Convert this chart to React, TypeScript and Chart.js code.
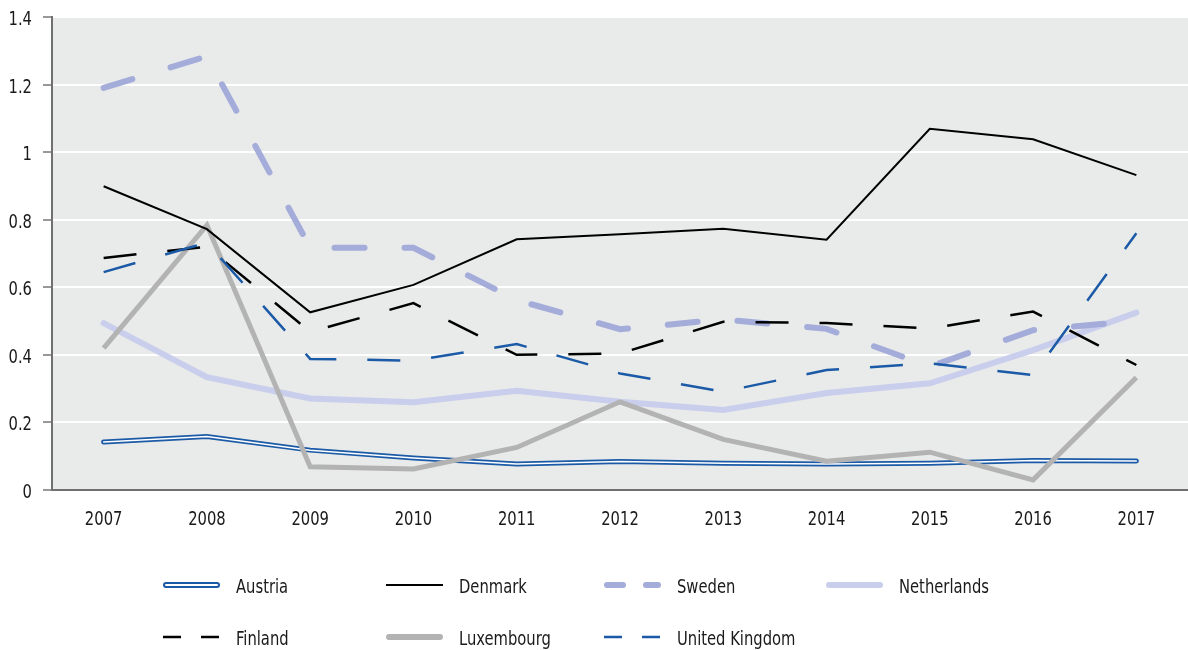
import React, { useEffect, useRef } from "react";
import { Chart, registerables } from "chart.js";

Chart.register(...registerables);

// Years on the category axis
const years = ["2007", "2008", "2009", "2010", "2011", "2012", "2013", "2014", "2015", "2016", "2017"];

// Series values per country
const austria = [0.142, 0.158, 0.118, 0.095, 0.077, 0.084, 0.079, 0.077, 0.079, 0.087, 0.086];
const denmark = [0.899, 0.772, 0.526, 0.607, 0.742, 0.757, 0.773, 0.741, 1.069, 1.038, 0.932];
const sweden = [1.19, 1.284, 0.717, 0.717, 0.562, 0.476, 0.505, 0.477, 0.365, 0.473, 0.501];
const netherlands = [0.494, 0.334, 0.271, 0.26, 0.294, 0.261, 0.237, 0.287, 0.316, 0.414, 0.525];
const finland = [0.687, 0.72, 0.468, 0.553, 0.4, 0.404, 0.498, 0.494, 0.478, 0.528, 0.37];
const luxembourg = [0.42, 0.784, 0.069, 0.062, 0.126, 0.261, 0.15, 0.085, 0.112, 0.03, 0.333];
const unitedKingdom = [0.645, 0.732, 0.388, 0.383, 0.432, 0.345, 0.291, 0.355, 0.375, 0.34, 0.76];

// Y axis ticks and their labels
const yTicks = [0, 0.2, 0.4, 0.6, 0.8, 1, 1.2, 1.4];
const yTickLabels = ["0", "0.2", "0.4", "0.6", "0.8", "1", "1.2", "1.4"];

const FONT = '"DejaVu Sans Condensed", "DejaVu Sans", sans-serif';
const SQUEEZE = 0.82; // horizontal squeeze for a narrow typeface look
const TEXT = "#1a1a1a";
const BLUE = "#1b5aa6";
const LAVENDER = "#a4acda";
const PALE = "#c9ceec";
const GREY = "#b3b3b3";
const AXIS = "#707070";
const PLOT_BG = "#e9eaea";

type LegendEntry = {
  label: string;
  color: string;
  width: number;
  dash: number[];
  cap: CanvasLineCap;
  double?: boolean;
};

const legendEntries: LegendEntry[] = [
  { label: "Austria", color: BLUE, width: 6, dash: [], cap: "round", double: true },
  { label: "Denmark", color: "#000000", width: 2, dash: [], cap: "butt" },
  { label: "Sweden", color: LAVENDER, width: 6, dash: [16, 23], cap: "round" },
  { label: "Netherlands", color: PALE, width: 6, dash: [], cap: "round" },
  { label: "Finland", color: "#000000", width: 2.5, dash: [18, 20], cap: "butt" },
  { label: "Luxembourg", color: GREY, width: 6, dash: [], cap: "round" },
  { label: "United Kingdom", color: BLUE, width: 2.5, dash: [18, 20], cap: "butt" },
];

function narrowText(ctx: CanvasRenderingContext2D, text: string, x: number, y: number, align: CanvasTextAlign) {
  ctx.save();
  ctx.translate(x, y);
  ctx.scale(SQUEEZE, 1);
  ctx.font = `20px ${FONT}`;
  ctx.fillStyle = TEXT;
  ctx.textAlign = align;
  ctx.textBaseline = "alphabetic";
  ctx.fillText(text, 0, 0);
  ctx.restore();
}

const plotBackground = {
  id: "plotBackground",
  beforeDraw(chart: any) {
    const { ctx, chartArea } = chart;
    ctx.save();
    ctx.fillStyle = PLOT_BG;
    ctx.fillRect(chartArea.left, chartArea.top, chartArea.right - chartArea.left, chartArea.bottom - chartArea.top);
    ctx.restore();
  },
};

// Tick labels placed from the chart's own scales, set in a narrow face
const axisLabels = {
  id: "axisLabels",
  afterDraw(chart: any) {
    const { ctx } = chart;
    const xs = chart.scales.x;
    const ys = chart.scales.y;
    years.forEach((yr, i) => {
      narrowText(ctx, yr, xs.getPixelForTick(i), xs.top + 35, "center");
    });
    yTicks.forEach((v, i) => {
      narrowText(ctx, yTickLabels[i], ys.right - 20, ys.getPixelForValue(v) + 8, "right");
    });
  },
};

// Four-column legend below the plot, second row aligned to the same columns
const columnLegend = {
  id: "columnLegend",
  afterDraw(chart: any) {
    const { ctx } = chart;
    const cols = [163, 386, 604, 826];
    const rows = [585, 637];
    const lineLen = 57;
    ctx.save();
    legendEntries.forEach((e, i) => {
      const x = cols[i % 4];
      const y = rows[Math.floor(i / 4)];
      ctx.beginPath();
      ctx.setLineDash(e.dash);
      ctx.lineCap = e.cap;
      ctx.lineWidth = e.width;
      ctx.strokeStyle = e.color;
      const inset = e.cap === "round" ? e.width / 2 : 0;
      ctx.moveTo(x + inset, y);
      ctx.lineTo(x + lineLen - inset, y);
      ctx.stroke();
      if (e.double) {
        ctx.beginPath();
        ctx.lineWidth = 2;
        ctx.strokeStyle = "#ffffff";
        ctx.moveTo(x + inset, y);
        ctx.lineTo(x + lineLen - inset, y);
        ctx.stroke();
      }
      ctx.setLineDash([]);
      narrowText(ctx, e.label, x + 73, y + 8, "left");
    });
    ctx.restore();
  },
};

export default function App() {
  const canvasRef = useRef<HTMLCanvasElement | null>(null);

  useEffect(() => {
    document.body.style.margin = "0";
    const canvas = canvasRef.current;
    if (!canvas) return;
    const chart = new Chart(canvas, {
      type: "line",
      data: {
        labels: years,
        datasets: [
          {
            label: "United Kingdom",
            data: unitedKingdom,
            borderColor: BLUE,
            borderWidth: 2.5,
            borderDash: [33, 31],
            order: 1,
          },
          {
            label: "Finland",
            data: finland,
            borderColor: "#000000",
            borderWidth: 2.5,
            borderDash: [33, 31],
            order: 2,
          },
          {
            label: "Denmark",
            data: denmark,
            borderColor: "#000000",
            borderWidth: 2,
            order: 3,
          },
          {
            label: "Luxembourg",
            data: luxembourg,
            borderColor: GREY,
            borderWidth: 5,
            order: 4,
          },
          {
            label: "Sweden",
            data: sweden,
            borderColor: LAVENDER,
            borderWidth: 6,
            borderDash: [30, 40],
            borderCapStyle: "round",
            order: 5,
          },
          {
            label: "Netherlands",
            data: netherlands,
            borderColor: PALE,
            borderWidth: 6,
            borderCapStyle: "round",
            order: 6,
          },
          {
            label: "Austria",
            data: austria,
            borderColor: "#ffffff",
            borderWidth: 1.5,
            borderCapStyle: "round",
            order: 7,
          },
          {
            label: "Austria outline",
            data: austria,
            borderColor: BLUE,
            borderWidth: 5,
            borderCapStyle: "round",
            order: 8,
          },
        ].map((d) => ({
          ...d,
          fill: false,
          tension: 0,
          pointRadius: 0,
          pointHoverRadius: 0,
          borderJoinStyle: "miter" as const,
        })),
      },
      options: {
        responsive: false,
        animation: false,
        events: [],
        layout: { padding: { top: 17, right: 0, bottom: 120, left: 0 } },
        plugins: {
          legend: { display: false },
          tooltip: { enabled: false },
        },
        scales: {
          x: {
            offset: true,
            grid: { display: false },
            border: { display: true, color: AXIS, width: 2 },
            ticks: { display: false, autoSkip: false },
            afterFit: (s: any) => {
              s.height = 40;
            },
          },
          y: {
            min: 0,
            max: 1.4,
            afterBuildTicks: (s: any) => {
              s.ticks = yTicks.map((v) => ({ value: v }));
            },
            grid: {
              color: (c: any) => (c.tick && c.tick.value === 0 ? AXIS : "#ffffff"),
              lineWidth: 2,
              tickColor: "#333333",
              tickLength: 9,
              tickWidth: 1,
            },
            border: { display: true, color: AXIS, width: 2 },
            ticks: { display: false },
            afterFit: (s: any) => {
              s.width = 52;
            },
          },
        },
      },
      plugins: [plotBackground, axisLabels, columnLegend],
    });
    return () => chart.destroy();
  }, []);

  return (
    <div style={{ width: 1188, height: 650 }}>
      <canvas ref={canvasRef} width={1188} height={650} style={{ display: "block" }} />
    </div>
  );
}
